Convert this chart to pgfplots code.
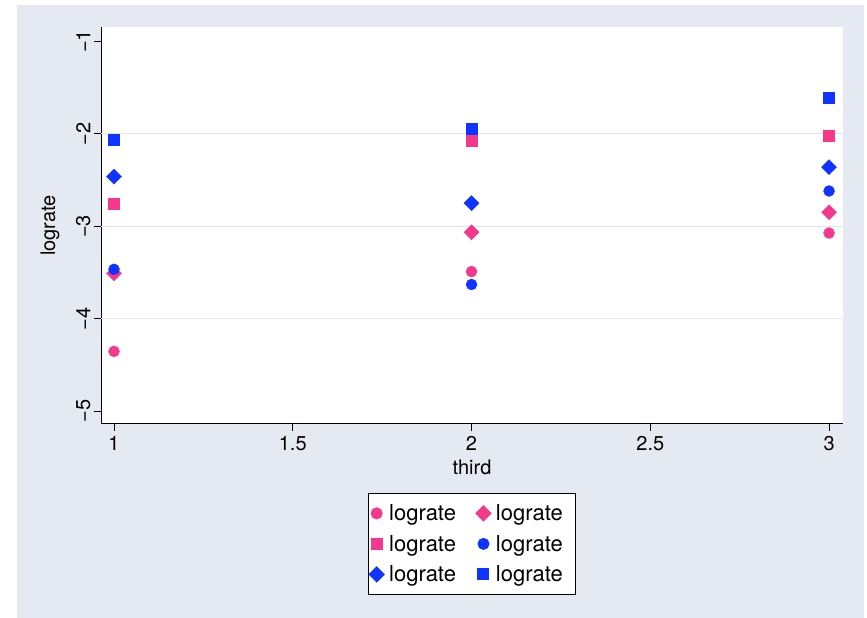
\documentclass[border=0pt]{standalone}
\usepackage{fontspec}
\setmainfont{TeX Gyre Heros}
\usepackage{pgfplots}
\pgfplotsset{compat=1.18}
\definecolor{bg}{RGB}{229,233,241}
\definecolor{pk}{RGB}{244,57,141}
\definecolor{bl}{RGB}{16,52,255}
\definecolor{gridc}{RGB}{226,230,238}
\begin{document}
\begin{tikzpicture}
\fill[white] (0pt,0pt) rectangle (867pt,618pt);
\fill[bg] (17pt,0pt) rectangle (864pt,613pt);
\begin{axis}[
 at={(101pt,194pt)}, anchor=south west,
 scale only axis, width=742pt, height=397pt,
 xmin=0.9636, xmax=3.039, ymin=-5.14, ymax=-0.843,
 axis x line*=bottom, axis y line*=left,
 axis line style={black, line width=1pt, -},
 axis background/.style={fill=white},
 font=\fontsize{20}{24}\selectfont,
 xtick={1,1.5,2,2.5,3}, xticklabels={1,1.5,2,2.5,3},
 ytick={-5,-1}, yticklabels={−5,−1},
 extra y ticks={-4,-3,-2}, extra y tick labels={−4,−3,−2},
 extra y tick style={grid=major},
 major grid style={gridc, line width=1pt},
 tick align=outside, major tick length=7pt,
 tick style={black, line width=1pt},
 yticklabel style={rotate=90, anchor=south},
 xticklabel shift=2pt,
 xlabel={third}, ylabel={lograte},
 xlabel shift=2pt, ylabel shift=-4pt,
 legend columns=2,
 legend cell align=left,
 legend style={at={(0.5,-0.174)}, anchor=north, draw=black, line width=1pt, fill=white,
   font=\fontsize{22}{26}\selectfont, inner xsep=1pt, inner ysep=11pt, row sep=13pt,
   nodes={inner xsep=2pt, inner ysep=0pt},
   /tikz/every odd column/.append style={column sep=3pt},
   /tikz/every even column/.append style={column sep=18pt}},
]
\addplot[only marks, mark=*, mark size=5.5pt, color=pk, mark options={draw=none, fill=pk}] coordinates {(1,-4.354) (2,-3.49) (3,-3.073)};
\addlegendentry{lograte}
\addplot[only marks, mark=square*, mark size=5.3pt, color=pk, mark options={rotate=45, draw=none, fill=pk}] coordinates {(1,-3.509) (2,-3.065) (3,-2.848)};
\addlegendentry{lograte\kern10pt}
\addplot[only marks, mark=square*, mark size=5.5pt, color=pk, mark options={draw=none, fill=pk}] coordinates {(1,-2.755) (2,-2.072) (3,-2.018)};
\addlegendentry{lograte}
\addplot[only marks, mark=*, mark size=5.5pt, color=bl, mark options={draw=none, fill=bl}] coordinates {(1,-3.466) (2,-3.63) (3,-2.618)};
\addlegendentry{lograte\kern10pt}
\addplot[only marks, mark=square*, mark size=5.3pt, color=bl, mark options={rotate=45, draw=none, fill=bl}] coordinates {(1,-2.463) (2,-2.75) (3,-2.36)};
\addlegendentry{lograte}
\addplot[only marks, mark=square*, mark size=5.5pt, color=bl, mark options={draw=none, fill=bl}] coordinates {(1,-2.058) (2,-1.946) (3,-1.613)};
\addlegendentry{lograte\kern10pt}
\end{axis}
\end{tikzpicture}
\end{document}
